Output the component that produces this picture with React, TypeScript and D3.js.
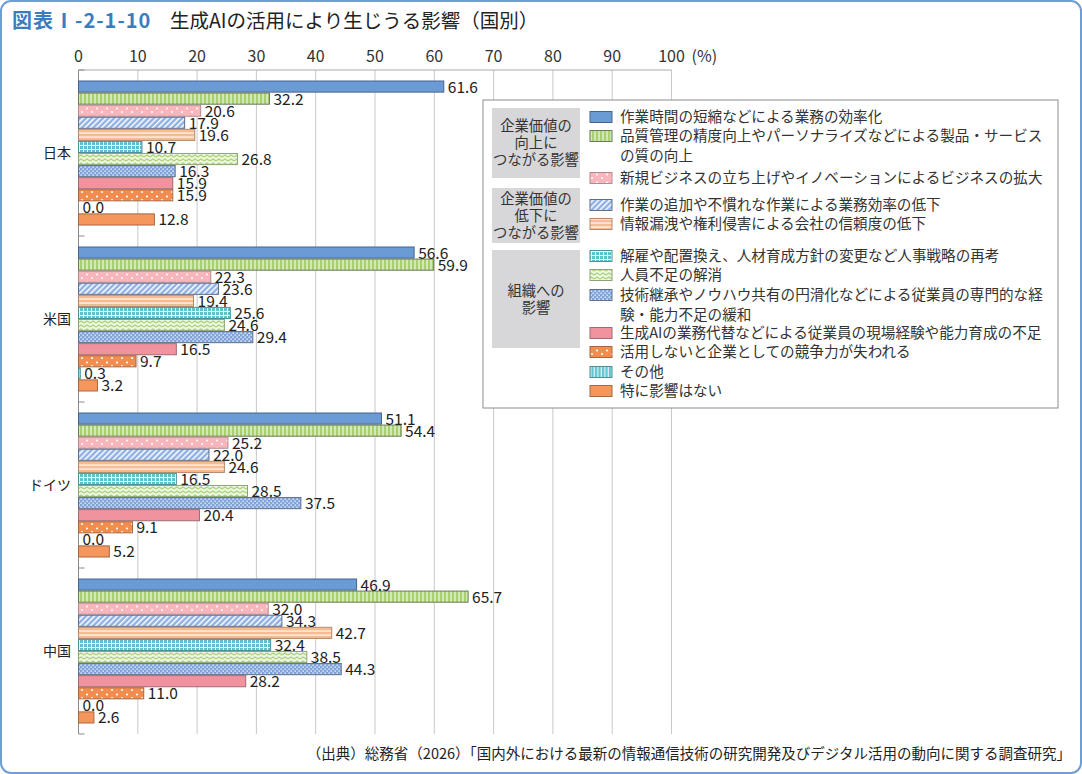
import React from 'react';
import * as d3 from 'd3';

const W = 1082;
const H = 774;
const FONT = '"Noto Sans CJK JP", "Noto Sans", sans-serif';

const countries = ['日本', '米国', 'ドイツ', '中国'];
const xTicks = [0, 10, 20, 30, 40, 50, 60, 70, 80, 90, 100];

// one array per answer, in country order: 日本, 米国, ドイツ, 中国
const workTime = [61.6, 56.6, 51.1, 46.9];
const quality = [32.2, 59.9, 54.4, 65.7];
const newBusiness = [20.6, 22.3, 25.2, 32.0];
const extraWork = [17.9, 23.6, 22.0, 34.3];
const leakage = [19.6, 19.4, 24.6, 42.7];
const hrStrategy = [10.7, 25.6, 16.5, 32.4];
const staffShortage = [26.8, 24.6, 28.5, 38.5];
const knowHow = [16.3, 29.4, 37.5, 44.3];
const lackExperience = [15.9, 16.5, 20.4, 28.2];
const competitiveness = [15.9, 9.7, 9.1, 11.0];
const other = [0.0, 0.3, 0.0, 0.0];
const noImpact = [12.8, 3.2, 5.2, 2.6];

const seriesNames = [
  ['作業時間の短縮などによる業務の効率化'],
  ['品質管理の精度向上やパーソナライズなどによる製品・サービス', 'の質の向上'],
  ['新規ビジネスの立ち上げやイノベーションによるビジネスの拡大'],
  ['作業の追加や不慣れな作業による業務効率の低下'],
  ['情報漏洩や権利侵害による会社の信頼度の低下'],
  ['解雇や配置換え、人材育成方針の変更など人事戦略の再考'],
  ['人員不足の解消'],
  ['技術継承やノウハウ共有の円滑化などによる従業員の専門的な経', '験・能力不足の緩和'],
  ['生成AIの業務代替などによる従業員の現場経験や能力育成の不足'],
  ['活用しないと企業としての競争力が失われる'],
  ['その他'],
  ['特に影響はない'],
];

const seriesValues = [
  workTime, quality, newBusiness, extraWork, leakage, hrStrategy,
  staffShortage, knowHow, lackExperience, competitiveness, other, noImpact,
];

// legend groups: label lines and the series they cover
const groups = [
  { lines: ['企業価値の', '向上に', 'つながる影響'], members: [0, 1, 2] },
  { lines: ['企業価値の', '低下に', 'つながる影響'], members: [3, 4] },
  { lines: ['組織への', '影響'], members: [5, 6, 7, 8] },
];

const fills = [
  '#6b9bd4', 'url(#p-vstripe-green)', 'url(#p-dots-pink)', 'url(#p-diag-blue)',
  'url(#p-hstripe-orange)', 'url(#p-grid-cyan)', 'url(#p-zigzag-green)', 'url(#p-check-blue)',
  '#f1939f', 'url(#p-dots-orange)', 'url(#p-vstripe-cyan)', '#f5975c',
];
const strokes = [
  '#46648f', '#6a7a55', '#b58a8f', '#5d6e8f', '#b48869', '#4f8f96',
  '#8ea470', '#5d6e8f', '#a06a73', '#a8683f', '#4f8f96', '#a8683f',
];

const margin = { top: 70, left: 78.5, right: 410.5, bottom: 40 };

function Patterns() {
  return (
    <defs>
      <pattern id="p-vstripe-green" width="4" height="4" patternUnits="userSpaceOnUse">
        <rect width="4" height="4" fill="#a8d06e" />
        <rect x="2.5" width="1" height="4" fill="#fff" />
      </pattern>
      <pattern id="p-vstripe-cyan" width="3.5" height="4" patternUnits="userSpaceOnUse">
        <rect width="3.5" height="4" fill="#62c4cf" />
        <rect x="2.3" width="1" height="4" fill="#fff" />
      </pattern>
      <pattern id="p-dots-pink" width="10" height="8" patternUnits="userSpaceOnUse">
        <rect width="10" height="8" fill="#f7b5bc" />
        <circle cx="2" cy="2" r="1" fill="#fff" />
        <circle cx="7" cy="6.5" r="1" fill="#fff" />
      </pattern>
      <pattern id="p-dots-orange" width="10" height="8" patternUnits="userSpaceOnUse">
        <rect width="10" height="8" fill="#f28d4f" />
        <circle cx="2" cy="2" r="1.1" fill="#fff" />
        <circle cx="7" cy="6.5" r="1.1" fill="#fff" />
      </pattern>
      <pattern id="p-diag-blue" width="4" height="4" patternUnits="userSpaceOnUse" patternTransform="rotate(45)">
        <rect width="4" height="4" fill="#8fb0e2" />
        <rect x="0" width="1.5" height="4" fill="#fff" />
      </pattern>
      <pattern id="p-hstripe-orange" width="4" height="4" patternUnits="userSpaceOnUse">
        <rect width="4" height="4" fill="#f8bb8f" />
        <rect y="2.5" width="4" height="1.1" fill="#fff" />
      </pattern>
      <pattern id="p-grid-cyan" width="4" height="4" patternUnits="userSpaceOnUse">
        <rect width="4" height="4" fill="#5ec2ce" />
        <rect x="3" width="1" height="4" fill="#fff" />
        <rect y="3" width="4" height="1" fill="#fff" />
      </pattern>
      <pattern id="p-zigzag-green" width="6" height="4" patternUnits="userSpaceOnUse">
        <rect width="6" height="4" fill="#eef6e2" />
        <path d="M0,3 L3,1 L6,3" fill="none" stroke="#a9d27a" strokeWidth="1.3" />
      </pattern>
      <pattern id="p-check-blue" width="4" height="4" patternUnits="userSpaceOnUse">
        <rect width="4" height="4" fill="#7fa3da" />
        <rect x="0.5" y="0.5" width="1.3" height="1.3" fill="#fff" />
        <rect x="2.5" y="2.5" width="1.3" height="1.3" fill="#fff" />
      </pattern>
    </defs>
  );
}

export default function App() {
  const x = d3.scaleLinear().domain([0, 100]).range([margin.left, W - margin.right]);
  const y = d3.scaleBand<string>().domain(countries).range([margin.top, H - margin.bottom]);
  const inner = d3
    .scaleBand<number>()
    .domain(d3.range(seriesValues.length))
    .range([11, y.bandwidth() - 11])
    .paddingInner(0.08);
  const bh = inner.bandwidth();

  const plotBottom = H - margin.bottom;

  // legend rows
  const legendX = 483;
  const legendY = 100;
  const rowY = [117, 136, 178, 205, 224, 256, 275, 295, 333, 352, 372, 391];
  const groupBoxes = [
    { y: 108, h: 70 },
    { y: 188, h: 55 },
    { y: 250, h: 98 },
  ];

  return (
    <svg
      width={W}
      height={H}
      style={{ position: 'absolute', left: 0, top: 0, fontFamily: FONT }}
    >
      <Patterns />
      <rect x={1} y={1} width={W - 2} height={H - 2} rx={10} fill="#fff" stroke="#6f9fd2" strokeWidth={2} />

      <text x={12} y={28} fontSize={20} fontWeight={700} fill="#3b7cc0" letterSpacing={1}>図表Ⅰ-2-1-10</text>
      <text x={170} y={28} fontSize={19.5} fill="#222">生成AIの活用により生じうる影響（国別）</text>

      {/* grid and axes */}
      {xTicks.map(t => (
        <g key={t}>
          <line x1={x(t)} x2={x(t)} y1={margin.top} y2={plotBottom} stroke={t === 0 ? '#8a8a8a' : '#c9c9c9'} />
          <text x={x(t)} y={62} fontSize={16} textAnchor="middle" fill="#333">{t}</text>
        </g>
      ))}
      <text x={x(100) + 20} y={62} fontSize={16} fill="#333">(%)</text>
      <line x1={x(0)} x2={x(100)} y1={margin.top} y2={margin.top} stroke="#aaa" />
      {countries.map(c => (
        <line key={c} x1={x(0)} x2={x(0) + 6} y1={y(c)!} y2={y(c)!} stroke="#8a8a8a" />
      ))}
      <line x1={x(0)} x2={x(0) + 6} y1={plotBottom} y2={plotBottom} stroke="#8a8a8a" />

      {/* bars first, then every value label on top of them */}
      {countries.map((c, ci) => (
        <g key={c} transform={`translate(0,${y(c)})`}>
          <text x={71} y={y.bandwidth() / 2 + 5} fontSize={14} textAnchor="end" fill="#222">{c}</text>
          {seriesValues.map((vals, si) =>
            vals[ci] > 0 ? (
              <rect
                key={si}
                x={x(0)}
                y={inner(si)!}
                width={x(vals[ci]) - x(0)}
                height={bh}
                fill={fills[si]}
                stroke={strokes[si]}
                strokeWidth={1}
              />
            ) : null
          )}
        </g>
      ))}
      {countries.map((c, ci) => (
        <g key={c} transform={`translate(0,${y(c)})`}>
          {seriesValues.map((vals, si) => (
            <text key={si} x={x(vals[ci]) + 4} y={inner(si)! + bh / 2 + 6} fontSize={15.5} fill="#222">
              {vals[ci].toFixed(1)}
            </text>
          ))}
        </g>
      ))}

      {/* legend */}
      <rect x={legendX} y={legendY} width={575} height={308} fill="#fff" stroke="#8c8c8c" />
      {groups.map((g, gi) => {
        const box = groupBoxes[gi];
        const lh = 17;
        const startY = box.y + box.h / 2 - ((g.lines.length - 1) * lh) / 2 + 5;
        return (
          <g key={gi}>
            <rect x={492} y={box.y} width={88} height={box.h} fill="#d7d7d9" />
            {g.lines.map((l, li) => (
              <text key={li} x={536} y={startY + li * lh} fontSize={14.3} textAnchor="middle" fill="#333">{l}</text>
            ))}
          </g>
        );
      })}
      {seriesNames.map((lines, si) => (
        <g key={si}>
          <rect x={590} y={rowY[si] - 5.5} width={22} height={11} fill={fills[si]} stroke={strokes[si]} />
          {lines.map((l, li) => (
            <text key={li} x={620} y={rowY[si] + 5 + li * 20} fontSize={14.6} fill="#333">{l}</text>
          ))}
        </g>
      ))}

      <text x={1071} y={759} fontSize={14.5} textAnchor="end" fill="#222">
        （出典）総務省（2026）「国内外における最新の情報通信技術の研究開発及びデジタル活用の動向に関する調査研究」
      </text>
    </svg>
  );
}
